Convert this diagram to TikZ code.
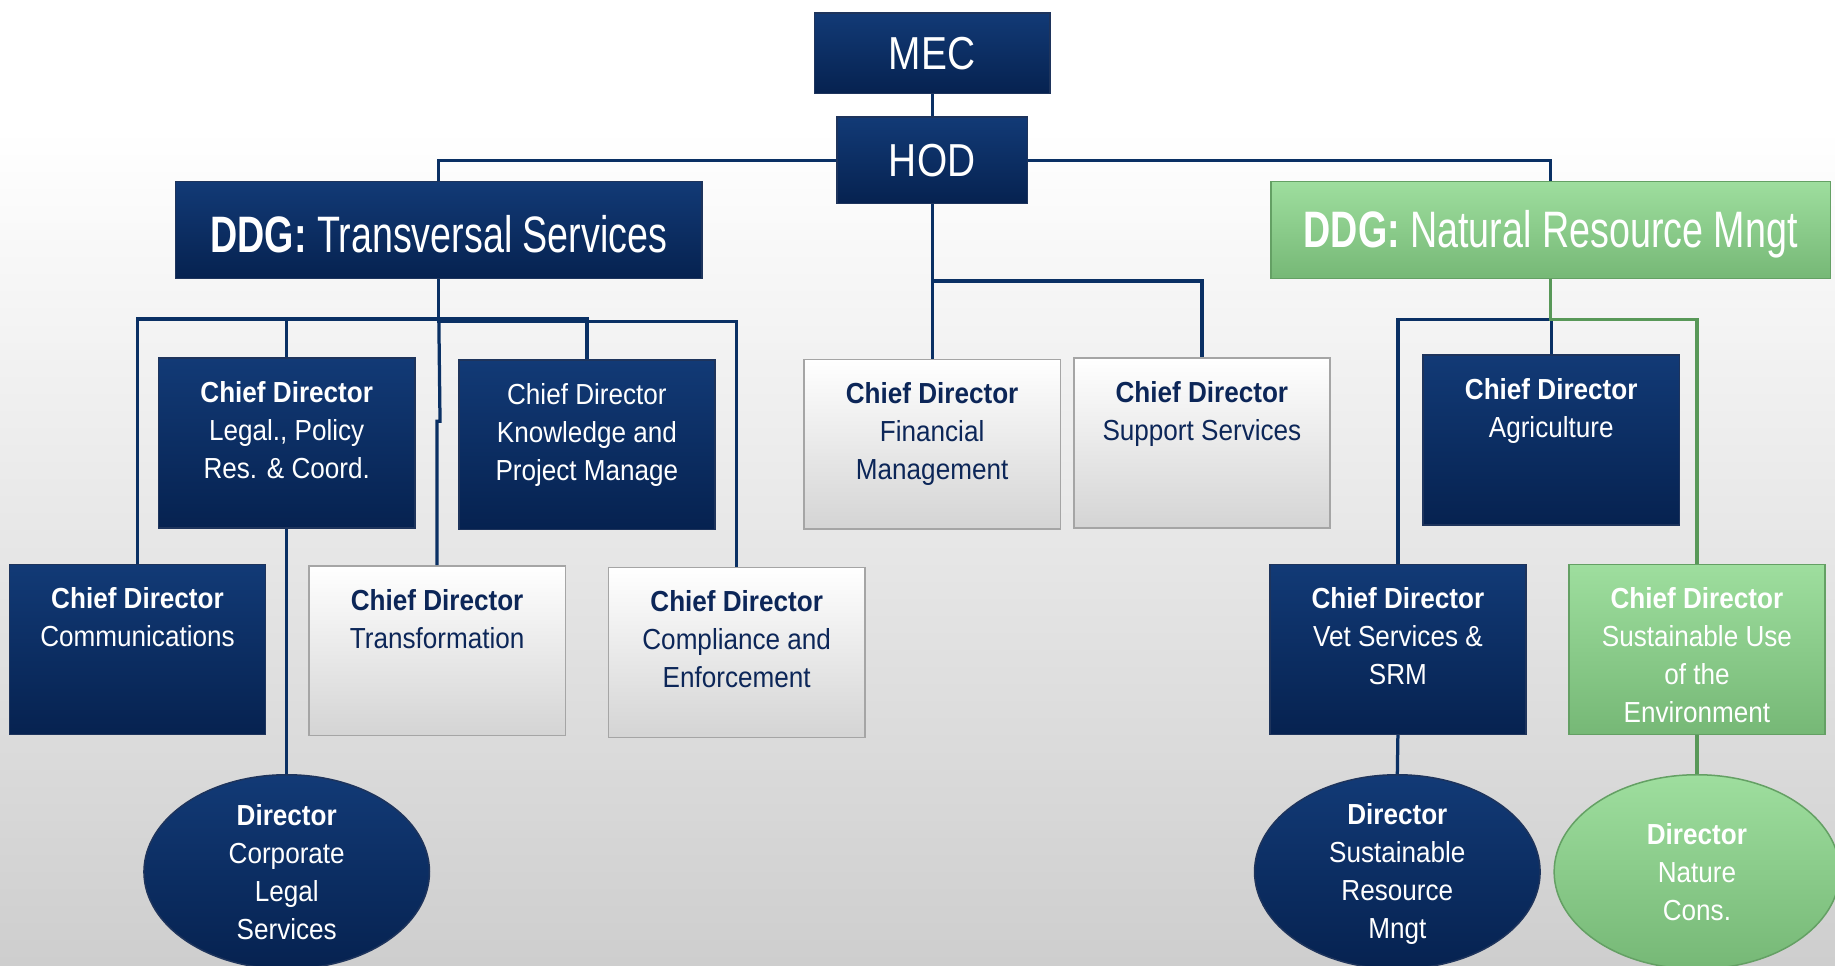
\documentclass[tikz,border=0pt]{standalone}
\usepackage{fontspec}
\setmainfont{Liberation Sans}[FakeStretch=0.9]
\newfontfamily\ddgfont{Liberation Sans}[FakeStretch=0.735]
\newfontfamily\topfont{Liberation Sans}[FakeStretch=0.84]
\usetikzlibrary{shapes.geometric}
\definecolor{navyT}{RGB}{18,58,118}
\definecolor{navyB}{RGB}{6,34,80}
\definecolor{navyE}{RGB}{30,52,92}
\definecolor{navyL}{RGB}{10,48,100}
\definecolor{greenT}{RGB}{158,222,158}
\definecolor{greenB}{RGB}{118,184,118}
\definecolor{greenE}{RGB}{100,160,100}
\definecolor{greenL}{RGB}{88,152,88}
\definecolor{txtN}{RGB}{12,38,88}
\definecolor{whiteB}{RGB}{212,212,212}
\definecolor{whiteE}{RGB}{165,165,165}
\definecolor{bgB}{RGB}{206,206,206}
\begin{document}
\begin{tikzpicture}[x=0.46811pt,y=-0.46811pt,
  base/.style={rectangle, inner sep=0pt, line width=0.6pt},
  navybox/.style={base, top color=navyT, bottom color=navyB, draw=navyE},
  greenbox/.style={base, top color=greenT, bottom color=greenB, draw=greenE},
  whitebox/.style={base, top color=white, bottom color=whiteB, draw=whiteE},
  cdsize/.style={minimum width=219*0.46811pt, minimum height=145*0.46811pt},
  ell/.style={ellipse, inner sep=0pt, line width=0.6pt, minimum width=244*0.46811pt, minimum height=166*0.46811pt},
  cdtext/.style={align=center, inner sep=0pt, anchor=north, font=\fontsize{11.6}{15.2}\selectfont},
  wtext/.style={cdtext, text=white},
  ntext/.style={cdtext, text=txtN},
  bigtext/.style={text=white, inner sep=0pt, font=\ddgfont\fontsize{20.5}{24}\selectfont},
  toptext/.style={text=white, inner sep=0pt, font=\topfont\fontsize{18.5}{22}\selectfont},
  navyline/.style={draw=navyL, line width=1.3pt},
  greenline/.style={draw=greenL, line width=1.3pt},
]
\useasboundingbox (0,0) rectangle (1568,825);
\fill[white] (0,0) rectangle (1568,825);
\shade[top color=white, bottom color=bgB] (0,110) rectangle (1568,825);

% helper coordinates
\coordinate (barA) at (0,272.5);
\coordinate (barB) at (0,274.5);
\coordinate (barR) at (0,273);
\coordinate (barM) at (0,240);
\coordinate (tj) at (376,360);

% top
\node[navybox, minimum width=201*0.46811pt, minimum height=69*0.46811pt] (mec) at (796.5,45.5) {};
\node[navybox, minimum width=163*0.46811pt, minimum height=74*0.46811pt] (hod) at (796.5,137) {};
\node[navybox, minimum width=450*0.46811pt, minimum height=83*0.46811pt] (ddgt) at (375,196.5) {};
\node[greenbox, minimum width=478*0.46811pt, minimum height=83*0.46811pt] (ddgn) at (1325,196.5) {};

% chief directors
\node[navybox, cdsize] (legal) at (245,378.5) {};
\node[navybox, cdsize] (know) at (501.5,380) {};
\node[whitebox, cdsize] (fin) at (796.5,379.5) {};
\node[whitebox, cdsize] (sup) at (1027,378.5) {};
\node[navybox, cdsize] (agri) at (1325.5,376) {};
\node[navybox, cdsize] (comm) at (117.5,555) {};
\node[whitebox, cdsize] (trans) at (373.5,556) {};
\node[whitebox, cdsize] (comp) at (629.5,557.5) {};
\node[navybox, cdsize] (vet) at (1194.5,555) {};
\node[greenbox, cdsize] (sust) at (1450,555) {};

% directors
\node[ell, top color=navyT, bottom color=navyB, draw=navyE] (corp) at (245,745) {};
\node[ell, top color=navyT, bottom color=navyB, draw=navyE] (srm) at (1194,745) {};
\node[ell, top color=greenT, bottom color=greenB, draw=greenE] (nat) at (1450,745) {};

% connectors
\draw[navyline] (mec.south) -- (hod.north);
\draw[navyline] (hod.west) -| (ddgt.north);
\draw[navyline] (hod.east) -| (ddgn.north);
\draw[navyline] (hod.south) -- (fin.north);
\draw[navyline] (fin.north |- barM) -| (sup.north);

\draw[navyline] (comm.north) -- (comm.north |- barA) -- (know.north |- barA) -- (know.north);
\draw[navyline] (ddgt.south) -- (ddgt.south |- barB) -- (comp.north |- barB) -- (comp.north);
\draw[navyline] (legal.north |- barA) -- (legal.north);
\draw[navyline] (ddgt.south |- barB) -- (tj) -| (trans.north);
\draw[navyline] (legal.south) -- (corp.north);

\draw[navyline] (vet.north) -- (vet.north |- barR) -- (agri.north |- barR) -- (agri.north);
\draw[greenline] (ddgn.south) -- (ddgn.south |- barR) -- (sust.north |- barR) -- (sust.north);
\draw[navyline] (vet.south) -- (srm.north);
\draw[greenline] (sust.south) -- (nat.north);

% texts
\node[toptext] (mec-t) at (mec.center) {MEC};
\node[toptext] (hod-t) at (hod.center) {HOD};
\node[bigtext] (ddgt-t) at ([yshift=-1.6pt]ddgt.center) {\textbf{DDG:} Transversal Services};
\node[bigtext] (ddgn-t) at ([yshift=-1.6pt]ddgn.center) {\textbf{DDG:} Natural Resource Mngt};

\node[wtext] (legal-t) at ([yshift=-9.4pt]legal.north) {\textbf{Chief Director}\\Legal., Policy\\Res. \& Coord.};
\node[wtext] (know-t) at ([yshift=-9.4pt]know.north) {Chief Director\\Knowledge and\\Project Manage};
\node[ntext] (fin-t) at ([yshift=-9.4pt]fin.north) {\textbf{Chief Director}\\Financial\\Management};
\node[ntext] (sup-t) at ([yshift=-9.4pt]sup.north) {\textbf{Chief Director}\\Support Services};
\node[wtext] (agri-t) at ([yshift=-9.4pt]agri.north) {\textbf{Chief Director}\\Agriculture};
\node[wtext] (comm-t) at ([yshift=-9.4pt]comm.north) {\textbf{Chief Director}\\Communications};
\node[ntext] (trans-t) at ([yshift=-9.4pt]trans.north) {\textbf{Chief Director}\\Transformation};
\node[ntext] (comp-t) at ([yshift=-9.4pt]comp.north) {\textbf{Chief Director}\\Compliance and\\Enforcement};
\node[wtext] (vet-t) at ([yshift=-9.4pt]vet.north) {\textbf{Chief Director}\\Vet Services \&\\SRM};
\node[wtext] (sust-t) at ([yshift=-9.4pt]sust.north) {\textbf{Chief Director}\\Sustainable Use\\of the\\Environment};

\node[wtext, anchor=center] (corp-t) at (corp.center) {\textbf{Director}\\Corporate\\Legal\\Services};
\node[wtext, anchor=center] (srm-t) at ([yshift=-0.8pt]srm.center) {\textbf{Director}\\Sustainable\\Resource\\Mngt};
\node[wtext, anchor=center] (nat-t) at (nat.center) {\textbf{Director}\\Nature\\Cons.};
\end{tikzpicture}
\end{document}
